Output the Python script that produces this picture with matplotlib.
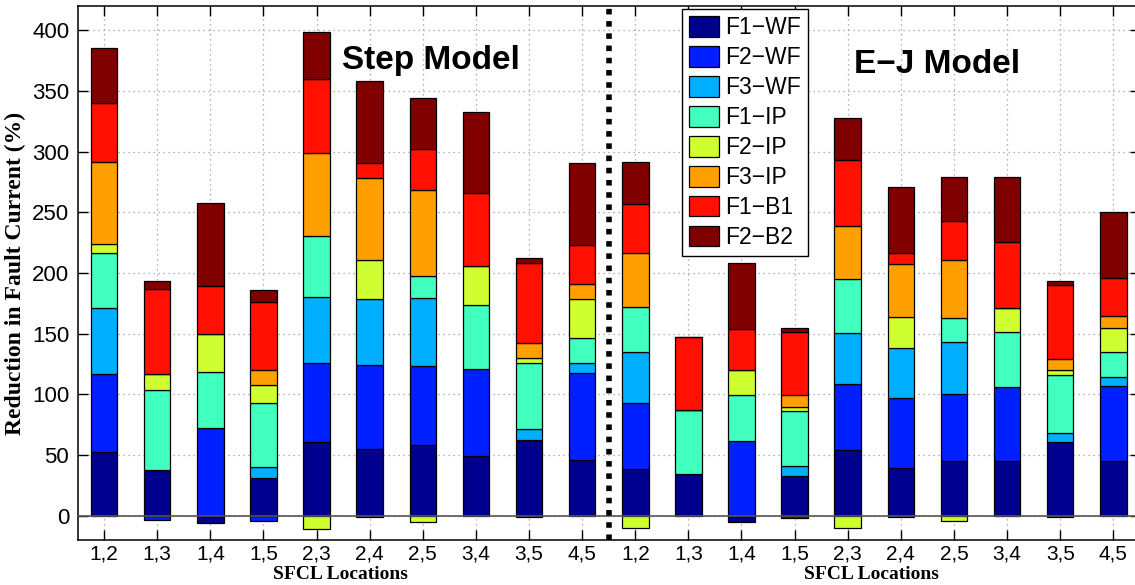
import numpy as np
import matplotlib
matplotlib.use('Agg')
import matplotlib.pyplot as plt
from matplotlib.patches import Patch

# SFCL location pairs (Step model: bars 1-10, E-J model: bars 11-20)
locations = ['1,2', '1,3', '1,4', '1,5', '2,3', '2,4', '2,5', '3,4', '3,5', '4,5'] * 2
series = ['F1\u2212WF', 'F2\u2212WF', 'F3\u2212WF', 'F1\u2212IP', 'F2\u2212IP', 'F3\u2212IP', 'F1\u2212B1', 'F2\u2212B2']

f1_wf = [52.5, 37.4, -6.0, 31.3, 60.5, 54.7, 58.5, 49.2, 62.4, 45.9,
         38.5, 34.6, -5.0, 33.0, 53.9, 39.0, 45.4, 44.8, 60.8, 45.4]
f2_wf = [64.3, -3.5, 72.3, -4.6, 65.7, 69.8, 64.9, 72.0, -1.0, 71.7,
         54.7, 0.0, 61.6, -2.0, 55.0, 58.3, 55.0, 61.3, -1.0, 61.3]
f3_wf = [54.5, 0.0, 0.0, 8.6, 54.2, 54.5, 56.1, 0.0, 8.8, 8.3,
         41.5, 0.0, 0.0, 7.7, 41.8, 41.3, 42.8, 0.0, 7.4, 7.4]
f1_ip = [44.8, 66.2, 46.2, 53.0, 50.3, -1.0, 18.2, 52.8, 54.4, 20.3,
         37.4, 52.8, 38.2, 45.9, 44.5, -1.0, 20.1, 45.3, 47.8, 20.6]
f2_ip = [8.0, 13.2, 31.6, 14.6, -11.2, 32.1, -5.3, 31.6, 4.7, 32.5,
         -9.9, 0.0, 20.6, 3.3, -9.9, 25.5, -4.4, 20.1, 3.9, 20.1]
f3_ip = [67.6, 0.0, 0.0, 12.4, 67.9, 67.4, 70.3, 0.0, 12.4, 12.4,
         44.2, 0.0, 0.0, 9.6, 43.7, 43.5, 47.6, 0.0, 9.3, 10.1]
f1_b1 = [48.7, 70.2, 39.6, 56.3, 61.5, 12.4, 34.4, 60.5, 65.7, 32.1,
         40.8, 60.0, 33.6, 51.7, 54.5, 9.0, 31.6, 53.9, 60.9, 31.2]
f2_b2 = [45.3, 6.8, 67.6, 9.4, 38.5, 67.3, 42.1, 66.8, 3.8, 67.1,
         34.3, 0.0, 54.4, 3.6, 34.6, 54.2, 36.8, 53.6, 3.2, 54.1]

colors = ['#00008F', '#0020FF', '#00AFFF', '#40FFBF', '#CFFF30', '#FF9F00', '#FF1000', '#800000']

data = np.array([f1_wf, f2_wf, f3_wf, f1_ip, f2_ip, f3_ip, f1_b1, f2_b2])
x = np.arange(1, len(locations) + 1)

plt.rcParams['font.family'] = ['Liberation Sans', 'DejaVu Sans']

fig = plt.figure(figsize=(11.35, 5.85), dpi=100)
ax = fig.add_axes([0.0683, 0.0769, 0.936, 0.9128])

# MATLAB-style stacking: positives upward, negatives downward
pos_base = np.zeros(len(x))
neg_base = np.zeros(len(x))
for vals, c in zip(data, colors):
    bottoms = np.where(vals >= 0, pos_base, neg_base)
    ax.bar(x, vals, 0.5, bottom=bottoms, color=c, edgecolor='black', linewidth=0.9, zorder=3)
    pos_base = pos_base + np.clip(vals, 0, None)
    neg_base = neg_base + np.clip(vals, None, 0)

ax.axhline(0, color='#555555', linewidth=1.2, zorder=4)
ax.axvline(10.5, color='black', linewidth=4, linestyle=(0, (1, 1.2)), zorder=5)

ax.set_xlim(0.5, 20.5)
ax.set_ylim(-20, 420)
ax.set_yticks(np.arange(0, 401, 50))
ax.set_xticks(x)
ax.set_xticklabels(locations)
ax.tick_params(axis='both', direction='in', length=7.5, width=1, top=True, right=True,
               labelsize=16, pad=6)
ax.tick_params(axis='x', labelsize=15, pad=3)
ax.grid(True, linestyle=(0, (1, 3)), color='#999999', linewidth=0.9, zorder=0)
for s in ax.spines.values():
    s.set_linewidth(1.1)

ax.set_ylabel('Reduction in Fault Current (%)', family=['Liberation Serif'], fontweight='bold',
              fontsize=17, labelpad=4)
for xc in (5.45, 15.45):
    ax.annotate('SFCL Locations', xy=(xc, -0.0485), xycoords=('data', 'axes fraction'),
                ha='center', va='top', family=['Liberation Serif'], fontweight='bold', fontsize=14)

ax.text(5.47, 368, 'Step Model', fontsize=24, fontweight='bold', ha='left', va='baseline', zorder=6)
ax.text(15.12, 365, 'E\u2212J Model', fontsize=24, fontweight='bold', ha='left', va='baseline', zorder=6)

handles = [Patch(facecolor=c, edgecolor='black', linewidth=0.9) for c in colors]
leg = ax.legend(handles, series, loc='upper left', bbox_to_anchor=(0.569, 0.994), borderaxespad=0,
                fontsize=16.5, handlelength=1.3, handleheight=1.0, labelspacing=0.3, handletextpad=0.3,
                borderpad=0.3, fancybox=False, framealpha=1, edgecolor='black')
leg.get_frame().set_linewidth(1)
leg.set_zorder(7)

fig.savefig('out.png', dpi=100)
